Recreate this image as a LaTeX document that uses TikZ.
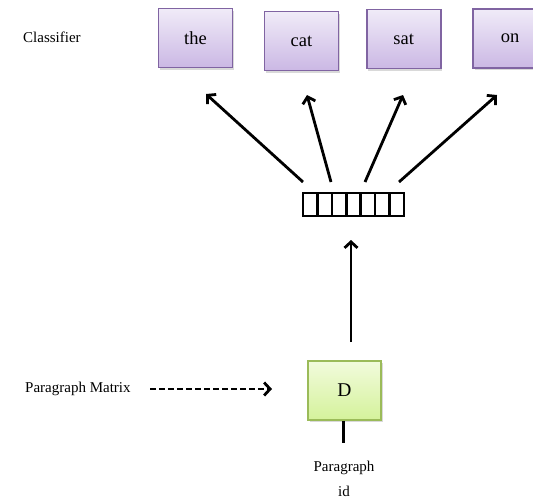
\documentclass[tikz,border=0pt]{standalone}
\usepackage{fontspec}
\setmainfont{Liberation Serif}
\usetikzlibrary{arrows.meta,shadows}
\definecolor{wordline}{RGB}{128,100,162}
\definecolor{wordtop}{RGB}{240,235,248}
\definecolor{wordbot}{RGB}{203,184,228}
\definecolor{dline}{RGB}{155,187,89}
\definecolor{dtop}{RGB}{242,251,220}
\definecolor{dbot}{RGB}{212,242,155}

\begin{document}
\begin{tikzpicture}[x=1pt,y=-1pt,
    word/.style={draw=wordline, line width=1.6pt, top color=wordtop, bottom color=wordbot,
        minimum width=74pt, minimum height=59pt, font=\fontsize{18.5}{20}\selectfont,
        drop shadow={shadow xshift=1.5pt, shadow yshift=-2pt, opacity=0.3}},
    pbox/.style={draw=dline, line width=1.6pt, top color=dtop, bottom color=dbot,
        minimum width=73pt, minimum height=59pt, font=\fontsize{19.5}{20}\selectfont,
        drop shadow={shadow xshift=1.5pt, shadow yshift=-2pt, opacity=0.3}},
    lbl/.style={inner sep=0pt, font=\fontsize{15}{17}\selectfont},
    arr/.style={line width=2.8pt, -{Straight Barb[length=6pt, width=13pt]}}]
    \pgfmathsetmacro{\cw}{101/7};
    \useasboundingbox (0,0) rectangle (533,501);
    % classifier row
    \draw (23,42.7) node[lbl, anchor=base west] (cls) {Classifier};
    \draw (195.5,38) node[word] (the) {the};
    \draw (301.5,41) node[word] (cat) {cat};
    \draw (403.7,39) node[word] (sat) {sat};
    \draw (510,38.5) node[word] (on) {on};
    % hidden vector
    \draw (353.5,204.5) node[draw, line width=2.6pt, outer sep=0pt, minimum width=101pt, minimum height=23pt, inner sep=0pt] (vec) {};
    \foreach \i in {1,...,6}
        \draw[line width=2.6pt] (vec.north west) ++(\i*\cw,0) -- ++(0,23);
    \coordinate (s1) at (303,182);
    \coordinate (s2) at (331,182);
    \coordinate (s3) at (365,182);
    \coordinate (s4) at (399,182);
    \coordinate (e1) at (206,94);
    \coordinate (e2) at (307,95);
    \coordinate (e3) at (403,95);
    \coordinate (e4) at (497,95);
    \foreach \i in {1,...,4}
        \draw[arr] (s\i) -- (e\i);
    % paragraph input
    \draw (344.5,390.5) node[pbox] (D) {D};
    \coordinate (up0) at (351,342);
    \coordinate (up1) at (351,240);
    \draw[arr] (up0) -- (up1);
    \draw (25,392.7) node[lbl, anchor=base west] (pm) {Paragraph Matrix};
    \coordinate (pm0) at (150,389);
    \coordinate (pm1) at (272,389);
    \draw[arr, dash pattern=on 6pt off 3pt] (pm0) -- (pm1);
    \draw (344,471) node[lbl, anchor=base] (pid) {Paragraph};
    \draw (344,496.5) node[lbl, anchor=base] (pid2) {id};
    \coordinate (idtop) at (343.3,443);
    \draw[line width=2.8pt] (D.south -| idtop) -- (idtop);
\end{tikzpicture}
\end{document}
